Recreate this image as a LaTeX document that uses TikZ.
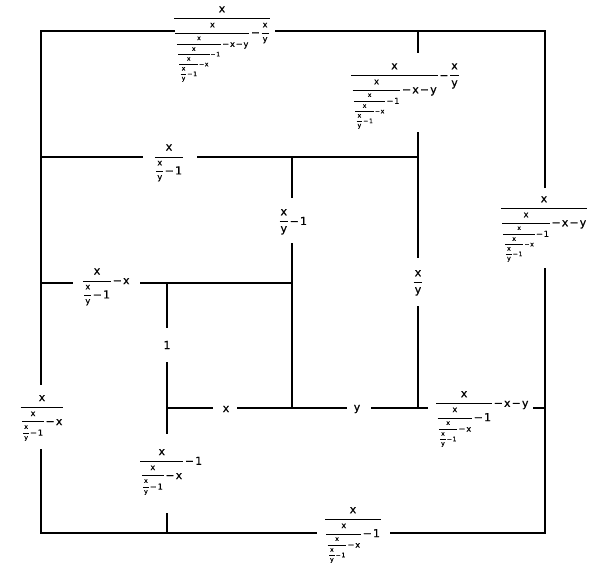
\documentclass[tikz,border=0pt]{standalone}
\usepackage{fontspec}
\setmainfont{DejaVu Sans}[FakeBold=0.6]
\newdimen\fsz \fsz=11pt
\newcount\flev \flev=0
\newdimen\faxis \newdimen\fwd \newdimen\fht \newdimen\frs
\newdimen\fga \newdimen\fgb
\newcommand\m{\kern.1em\char"2212\kern.1em}
\newcommand\fstrut{\vrule width0pt height0.75em depth0.25em\relax}
\newcommand\F[2]{\begingroup
  \faxis=0.31\fsz
  \fga=0.3\fsz \fgb=0.2\fsz
  \ifnum\flev>0 \fsz=0.75\fsz \ifdim\fsz<6.2pt \fsz=6.2pt\fi\fi
  \advance\flev by 1
  \fontsize{\the\fsz}{\the\fsz}\selectfont
  \setbox0\hbox{\fstrut#1}\setbox2\hbox{\fstrut#2}%
  \fwd=\wd0 \ifdim\wd2>\fwd \fwd=\wd2 \fi
  \advance\fwd by 2pt
  \fht=\ht2
  \frs=\faxis \advance\frs by -0.25pt \advance\frs by -\fgb \advance\frs by -\fht
  \setbox4\vbox{\offinterlineskip\hbox to\fwd{\hss\box0\hss}\kern\fga\hrule height0.5pt\kern\fgb\hbox to\fwd{\hss\box2\hss}}%
  \kern0.05em\raise\frs\box4\kern0.05em
\endgroup}
\newcommand\Dthree{\F{x}{\F{x}{y}\m1}}
\newcommand\Dtwo{\F{x}{\Dthree\m x}}
\newcommand\Done{\F{x}{\Dtwo\m1}}
\tikzset{
  wall/.style={line width=1.8pt, line join=miter},
  lbl/.style={inner sep=0pt, font=\fontsize{11}{13}\selectfont}
}
\begin{document}
\begin{tikzpicture}[x=1pt,y=-1pt]
\useasboundingbox (0,0) rectangle (592,573);
% outer border
\draw[wall] (175,31) -- (41,31) -- (41,385);
\draw[wall] (41,449) -- (41,533) -- (317,533);
\draw[wall] (390,533) -- (545,533) -- (545,268);
\draw[wall] (545,188) -- (545,31) -- (275,31);
% inner walls
\draw[wall] (418,31) -- (418,53);
\draw[wall] (418,132) -- (418,258);
\draw[wall] (418,306) -- (418,408);
\draw[wall] (41,157) -- (143,157);
\draw[wall] (197,157) -- (418,157);
\draw[wall] (292,157) -- (292,198);
\draw[wall] (292,243) -- (292,408);
\draw[wall] (41,283) -- (73,283);
\draw[wall] (140,283) -- (292,283);
\draw[wall] (167,283) -- (167,328);
\draw[wall] (167,362) -- (167,434);
\draw[wall] (167,513) -- (167,533);
\draw[wall] (167,408) -- (213,408);
\draw[wall] (237,408) -- (347,408);
\draw[wall] (371,408) -- (428,408);
\draw[wall] (533,408) -- (545,408);
% labels
\node[lbl] (l1) at (222,43) {\F{x}{\F{x}{\Done\m x\m y}\m\F{x}{y}}};
\node[lbl] (l2) at (405,95) {\F{x}{\Done\m x\m y}\m\F{x}{y}};
\node[lbl] (l3) at (169,162) {\Dthree};
\node[lbl] (l4) at (293,221) {\F{x}{y}\m1};
\node[lbl] (l5) at (106,286) {\Dthree\m x};
\node[lbl] (l6) at (544,228) {\F{x}{\Done\m x\m y}};
\node[lbl] (l7) at (418,282) {\F{x}{y}};
\node[lbl] (l8) at (482,418) {\Done\m x\m y};
\node[lbl] (l9) at (42,417) {\Dtwo};
\node[lbl] (l10) at (171,471) {\Dtwo\m1};
\node[lbl] (l11) at (353,534) {\Done};
\node[lbl] (l12) at (167,345) {1};
\node[lbl] (l13) at (226,409) {x};
\node[lbl] (l14) at (357,409) {y};
\end{tikzpicture}
\end{document}
